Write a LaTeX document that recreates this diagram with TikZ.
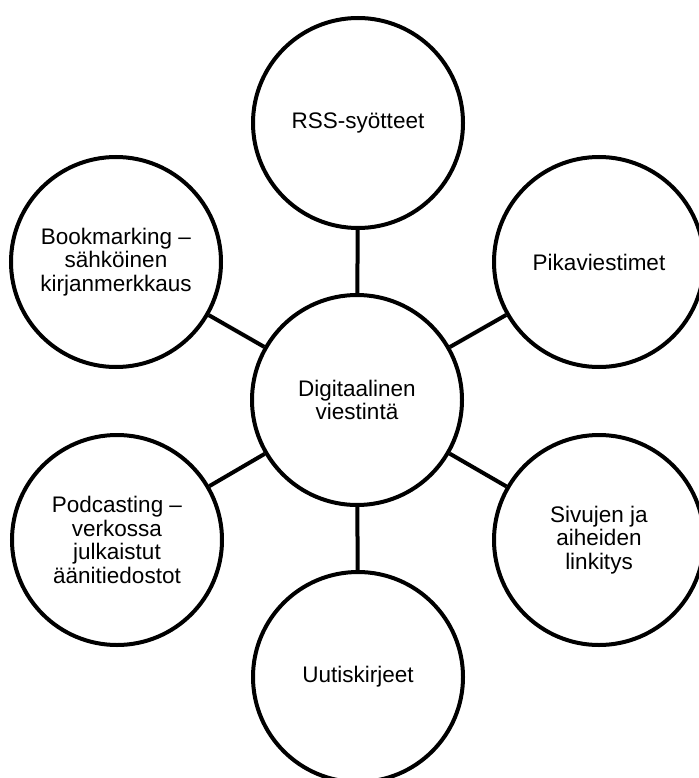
\documentclass[tikz,border=0pt]{standalone}
\usepackage{fontspec}
\setmainfont{Liberation Sans}
\begin{document}
\begin{tikzpicture}[x=1pt,y=-1pt,
  bubble/.style={circle, draw=black, line width=4pt, fill=white,
    minimum size=210pt, inner sep=0pt, align=center,
    font=\fontsize{22.5}{23.5}\selectfont},
  link/.style={draw=black, line width=4pt}]
\useasboundingbox (0,0) rectangle (698,778);
% hub and the six topics around it
\node[bubble] (hub)     at (357,400) {Digitaalinen\\viestintä};
\node[bubble] (rss)     at (358,123) {RSS-syötteet};
\node[bubble] (pika)    at (599,262) {Pikaviestimet};
\node[bubble] (linkit)  at (599,540) {Sivujen ja\\aiheiden\\linkitys};
\node[bubble] (uutis)   at (358,677) {Uutiskirjeet};
\node[bubble] (podcast) at (117,540) {Podcasting –\\verkossa\\julkaistut\\äänitiedostot};
\node[bubble] (bookm)   at (116,262) {Bookmarking –\\sähköinen\\kirjanmerkkaus};
% spokes
\foreach \n in {rss,pika,linkit,uutis,podcast,bookm}
  \draw[link] (hub) -- (\n);
\end{tikzpicture}
\end{document}
